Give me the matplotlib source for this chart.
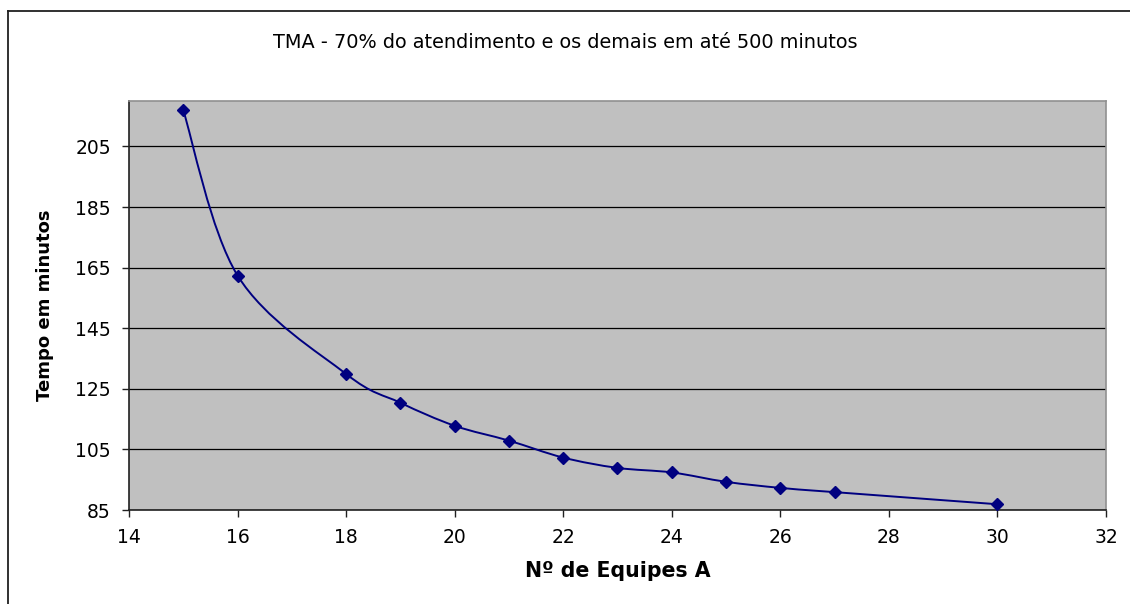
import numpy as np
import matplotlib.pyplot as plt
from matplotlib.path import Path
from matplotlib.patches import PathPatch
from matplotlib.lines import Line2D

plt.rcParams['font.family'] = ['DejaVu Sans']

# valores
equipes = [15, 16, 18, 19, 20, 21, 22, 23, 24, 25, 26, 27, 30]
tma = [216.9, 162.4, 129.9, 120.4, 112.8, 107.9, 102.3, 98.9, 97.4, 94.3, 92.3, 90.9, 86.9]
xticks = [14, 16, 18, 20, 22, 24, 26, 28, 30, 32]
yticks = [85, 105, 125, 145, 165, 185, 205]

titulo = "TMA - 70% do atendimento e os demais em até 500 minutos"
xlabel = "Nº de Equipes A"
ylabel = "Tempo em minutos"

azul = '#000080'

fig = plt.figure(figsize=(11.3, 6.04), dpi=100)
ax = fig.add_axes([129 / 1130, 1 - 510 / 604, (1106 - 129) / 1130, (510 - 101) / 604])
ax.set_facecolor('#c0c0c0')

# linha suavizada (bezier tipo catmull-rom, como no Excel)
pts = np.column_stack([equipes, tma])
verts = [tuple(pts[0])]
codes = [Path.MOVETO]
n = len(pts)
for i in range(n - 1):
    p0 = pts[max(i - 1, 0)]
    p1 = pts[i]
    p2 = pts[i + 1]
    p3 = pts[min(i + 2, n - 1)]
    c1 = p1 + (p2 - p0) / 6.0
    c2 = p2 - (p3 - p1) / 6.0
    verts += [tuple(c1), tuple(c2), tuple(p2)]
    codes += [Path.CURVE4, Path.CURVE4, Path.CURVE4]
ax.add_patch(PathPatch(Path(verts, codes), facecolor='none', edgecolor=azul, lw=1.4, zorder=3))
ax.plot(equipes, tma, linestyle='none', marker='D', markersize=6.5, color=azul, zorder=4)

ax.set_xlim(14, 32)
ax.set_ylim(85, 220)
ax.set_xticks(xticks)
ax.set_yticks(yticks)
ax.yaxis.grid(True, color='black', lw=0.9)
ax.set_axisbelow(True)

for s in ['top', 'right']:
    ax.spines[s].set_color('#909090')
    ax.spines[s].set_linewidth(1.2)
for s in ['left', 'bottom']:
    ax.spines[s].set_color('#202020')
    ax.spines[s].set_linewidth(1.2)

ax.tick_params(axis='both', direction='out', length=5, width=1, color='#202020', labelsize=13.5)
ax.tick_params(axis='x', pad=8)
ax.tick_params(axis='y', pad=8)

ax.set_xlabel(xlabel, fontsize=14.8, fontweight='bold', labelpad=10)
ax.set_ylabel(ylabel, fontsize=13, fontweight='bold', labelpad=15)
fig.text(565 / 1130, 1 - 42 / 604, titulo, ha='center', va='center', fontsize=13.9)

# moldura externa do grafico
fig.add_artist(Line2D([8 / 1130, 8 / 1130], [-0.1, 1 - 10.5 / 604], color='#202020', lw=1.3))
fig.add_artist(Line2D([8 / 1130, 1.1], [1 - 10.5 / 604, 1 - 10.5 / 604], color='#202020', lw=1.3))

fig.savefig('out.png', dpi=100)
